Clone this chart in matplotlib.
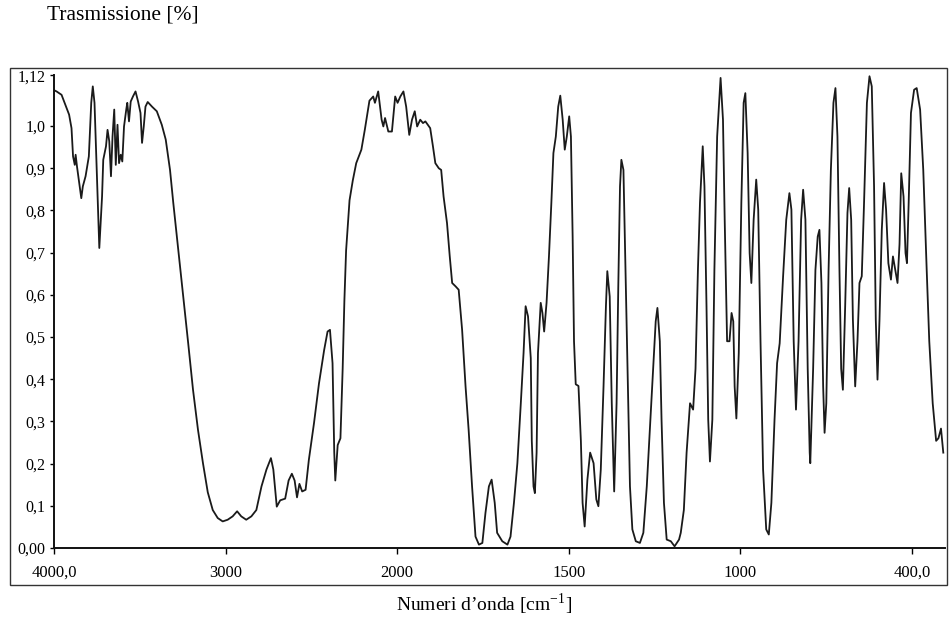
import numpy as np
import matplotlib
matplotlib.use("Agg")
import matplotlib.pyplot as plt
from matplotlib.patches import Rectangle

plt.rcParams['font.family'] = ['Liberation Serif', 'DejaVu Serif']
plt.rcParams['mathtext.fontset'] = 'custom'
plt.rcParams['mathtext.rm'] = 'Liberation Serif'

# ---- data (wavenumber cm^-1, transmission) ----
wavenumber = [
    4000, 3985, 3956, 3927, 3912, 3898, 3889, 3879, 3874, 3866, 3841, 3832, 3816, 3797, 3783, 3774,
    3764, 3751, 3736, 3720, 3713, 3697, 3688, 3678, 3668, 3659, 3649, 3640, 3630, 3621, 3611, 3602,
    3592, 3579, 3573, 3563, 3553, 3540, 3525, 3510, 3496, 3487, 3477, 3467, 3454, 3429, 3401, 3372,
    3349, 3324, 3305, 3276, 3247, 3218, 3190, 3161, 3132, 3104, 3075, 3046, 3017, 2988, 2959, 2933,
    2909, 2880, 2850, 2821, 2791, 2762, 2736, 2722, 2702, 2682, 2653, 2633, 2614, 2598, 2584, 2570,
    2554, 2534, 2515, 2485, 2456, 2426, 2406, 2392, 2377, 2367, 2361, 2347, 2331, 2318, 2308, 2298,
    2278, 2259, 2239, 2209, 2189, 2162, 2140, 2130, 2111, 2091, 2081, 2071, 2052, 2031, 2012, 1999,
    1991, 1982, 1974, 1965, 1957, 1949, 1942, 1933, 1925, 1918, 1904, 1896, 1889, 1879, 1872, 1865,
    1855, 1847, 1840, 1830, 1821, 1811, 1801, 1792, 1782, 1772, 1762, 1752, 1743, 1733, 1725, 1716,
    1709, 1694, 1679, 1670, 1660, 1650, 1640, 1632, 1626, 1619, 1611, 1608, 1603, 1599, 1594, 1590,
    1582, 1577, 1572, 1565, 1558, 1551, 1545, 1538, 1531, 1525, 1518, 1512, 1506, 1499, 1494, 1489,
    1485, 1480, 1472, 1465, 1460, 1454, 1446, 1438, 1428, 1420, 1414, 1407, 1399, 1392, 1388, 1381,
    1375, 1368, 1361, 1356, 1351, 1347, 1341, 1336, 1329, 1322, 1315, 1305, 1293, 1283, 1273, 1264,
    1254, 1247, 1242, 1235, 1230, 1223, 1215, 1203, 1192, 1179, 1174, 1165, 1157, 1147, 1138, 1131,
    1124, 1118, 1110, 1105, 1099, 1094, 1089, 1082, 1076, 1068, 1058, 1051, 1046, 1039, 1032, 1026,
    1021, 1017, 1012, 1005, 997, 989, 983, 975, 968, 962, 954, 945, 938, 930, 921, 910,
    901, 892, 881, 872, 863, 851, 840, 829, 822, 814, 806, 797, 788, 781, 773, 765,
    758, 756, 746, 738, 730, 724, 717, 711, 706, 700, 692, 684, 675, 668, 661, 654,
    648, 642, 634, 626, 620, 613, 607, 599, 591, 584, 576, 568, 558, 549, 541, 533,
    527, 521, 514, 506, 498, 491, 483, 474, 467, 459, 451, 444, 438, 430, 423, 418,
    412, 404, 393, 384, 372, 361, 349, 340, 328, 316, 308, 299, 291,
]
transmission = [
    1.085, 1.082, 1.074, 1.043, 1.027, 0.995, 0.928, 0.908, 0.932, 0.904, 0.829, 0.857, 0.881, 0.928, 1.055, 1.094,
    1.055, 0.896, 0.711, 0.833, 0.920, 0.952, 0.991, 0.964, 0.881, 0.975, 1.039, 0.908, 1.003, 0.912, 0.932, 0.916,
    0.999, 1.039, 1.055, 1.011, 1.058, 1.070, 1.082, 1.058, 1.031, 0.960, 0.999, 1.046, 1.057, 1.046, 1.035, 1.003,
    0.968, 0.896, 0.818, 0.707, 0.596, 0.485, 0.375, 0.280, 0.201, 0.132, 0.090, 0.071, 0.063, 0.067, 0.075, 0.087,
    0.075, 0.067, 0.075, 0.090, 0.146, 0.186, 0.213, 0.186, 0.098, 0.113, 0.117, 0.160, 0.176, 0.160, 0.120, 0.152,
    0.134, 0.138, 0.209, 0.296, 0.390, 0.469, 0.513, 0.517, 0.438, 0.226, 0.160, 0.244, 0.260, 0.425, 0.586, 0.705,
    0.824, 0.871, 0.912, 0.944, 0.991, 1.060, 1.070, 1.055, 1.082, 1.015, 0.999, 1.019, 0.987, 0.987, 1.070, 1.055,
    1.070, 1.082, 1.046, 0.979, 1.015, 1.035, 0.999, 1.015, 1.007, 1.011, 0.995, 0.952, 0.912, 0.900, 0.896, 0.833,
    0.770, 0.691, 0.628, 0.620, 0.612, 0.517, 0.383, 0.280, 0.146, 0.027, 0.008, 0.012, 0.083, 0.146, 0.162, 0.107,
    0.036, 0.016, 0.008, 0.027, 0.107, 0.201, 0.343, 0.462, 0.573, 0.549, 0.450, 0.254, 0.146, 0.130, 0.226, 0.462,
    0.581, 0.557, 0.513, 0.581, 0.691, 0.818, 0.936, 0.975, 1.046, 1.072, 1.015, 0.944, 0.975, 1.023, 0.975, 0.738,
    0.490, 0.388, 0.384, 0.254, 0.107, 0.051, 0.162, 0.226, 0.201, 0.115, 0.099, 0.186, 0.383, 0.573, 0.656, 0.596,
    0.343, 0.134, 0.343, 0.620, 0.857, 0.920, 0.896, 0.699, 0.425, 0.146, 0.044, 0.016, 0.012, 0.036, 0.146, 0.280,
    0.425, 0.537, 0.569, 0.490, 0.304, 0.107, 0.020, 0.016, 0.004, 0.020, 0.036, 0.090, 0.226, 0.343, 0.328, 0.425,
    0.659, 0.818, 0.952, 0.857, 0.573, 0.304, 0.205, 0.304, 0.659, 0.975, 1.114, 1.015, 0.778, 0.490, 0.490, 0.557,
    0.537, 0.383, 0.307, 0.462, 0.818, 1.055, 1.078, 0.936, 0.699, 0.628, 0.778, 0.873, 0.802, 0.490, 0.186, 0.044,
    0.032, 0.107, 0.304, 0.438, 0.485, 0.644, 0.778, 0.841, 0.802, 0.490, 0.328, 0.490, 0.778, 0.849, 0.778, 0.425,
    0.226, 0.201, 0.425, 0.659, 0.738, 0.754, 0.628, 0.383, 0.273, 0.343, 0.659, 0.896, 1.055, 1.090, 0.975, 0.659,
    0.425, 0.375, 0.573, 0.794, 0.853, 0.778, 0.541, 0.383, 0.490, 0.628, 0.644, 0.818, 1.055, 1.118, 1.094, 0.857,
    0.541, 0.399, 0.541, 0.754, 0.865, 0.802, 0.675, 0.636, 0.691, 0.659, 0.628, 0.720, 0.888, 0.833, 0.699, 0.675,
    0.818, 1.031, 1.086, 1.090, 1.039, 0.896, 0.659, 0.490, 0.343, 0.254, 0.260, 0.283, 0.226,
]

x_tick_values = [4000, 3000, 2000, 1500, 1000, 400]
x_tick_labels = ["4000,0", "3000", "2000", "1500", "1000", "400,0"]
y_tick_values = [0.0, 0.1, 0.2, 0.3, 0.4, 0.5, 0.6, 0.7, 0.8, 0.9, 1.0, 1.12]
y_tick_labels = ["0,00", "0,1", "0,2", "0,3", "0,4", "0,5", "0,6", "0,7", "0,8", "0,9", "1,0", "1,12"]

# piecewise-linear (instrument style) wavenumber axis: ticks equally spaced
_wn_bp = np.array([200.0, 400.0, 1000.0, 1500.0, 2000.0, 3000.0, 4000.0])
_pos_bp = np.array([-(5 + 200 / 600), -5.0, -4.0, -3.0, -2.0, -1.0, 0.0])  # increasing

def fwd(w):
    return np.interp(w, _wn_bp, _pos_bp)

def inv(p):
    return np.interp(p, _pos_bp, _wn_bp)

W, H = 950, 643
fig = plt.figure(figsize=(W / 100, H / 100), dpi=100)
ax = fig.add_axes([54 / W, 1 - 548 / H, (945 - 54) / W, (548 - 75.4) / H])
ax.set_xscale('function', functions=(fwd, inv))

ax.plot(wavenumber, transmission, color='#1a1a1a', lw=1.3)

ax.set_xlim(4000, 285)
ax.set_ylim(0, 1.12)

ax.set_xticks(x_tick_values)
ax.set_xticklabels(x_tick_labels)
ax.set_yticks(y_tick_values)
ax.set_yticklabels(y_tick_labels)
ax.xaxis.set_minor_locator(matplotlib.ticker.NullLocator())
ax.tick_params(axis='x', direction='out', length=4, width=1, pad=8, labelsize=12)
ax.tick_params(axis='y', direction='out', length=3, width=1, pad=3, labelsize=11.5)

for s in ['top', 'right']:
    ax.spines[s].set_visible(False)
for s in ['left', 'bottom']:
    ax.spines[s].set_linewidth(1.4)
    ax.spines[s].set_color('#111111')

# outer frame around chart
fig.patches.append(Rectangle((10 / W, 1 - 585 / H), (947 - 10) / W, (585 - 68) / H,
                             transform=fig.transFigure, fill=False,
                             edgecolor='#333333', lw=1.0))

fig.text(47 / W, 1 - 15 / H, "Trasmissione [%]", fontsize=15.5, ha='left', va='center')
fig.text(484 / W, 1 - 604 / H, "Numeri d\u2019onda [cm$^{\\mathregular{-1}}$]",
         fontsize=14, ha='center', va='center')

fig.savefig("out.png", dpi=100)
